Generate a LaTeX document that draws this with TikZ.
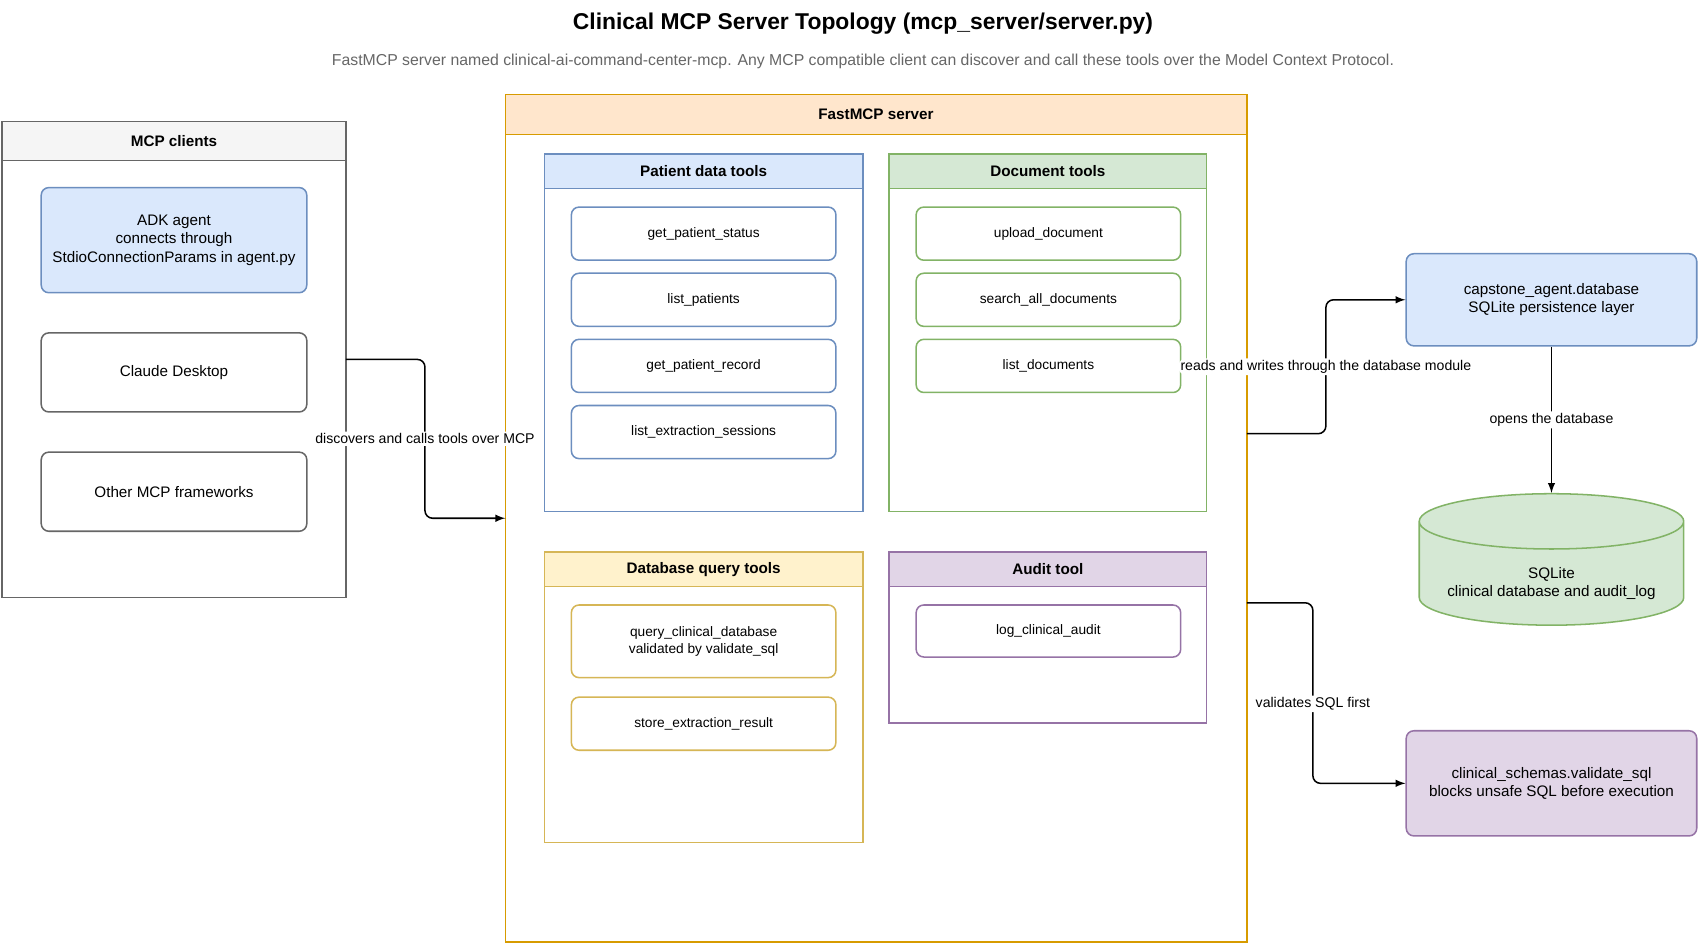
\documentclass[tikz,border=0pt]{standalone}
\usepackage{fontspec}
\setmainfont{Liberation Sans}
\usetikzlibrary{shapes.geometric,calc}
\definecolor{bluef}{HTML}{DAE8FC}\definecolor{blued}{HTML}{6C8EBF}
\definecolor{greenf}{HTML}{D5E8D4}\definecolor{greend}{HTML}{82B366}
\definecolor{yellowf}{HTML}{FFF2CC}\definecolor{yellowd}{HTML}{D6B656}
\definecolor{purplef}{HTML}{E1D5E7}\definecolor{purpled}{HTML}{9673A6}
\definecolor{orangef}{HTML}{FFE6CC}\definecolor{oranged}{HTML}{D79B00}
\definecolor{grayf}{HTML}{F5F5F5}\definecolor{grayd}{HTML}{666666}
\tikzset{
  box/.style={draw,thick,fill=white,inner sep=0,outer sep=0},
  head/.style={box,anchor=north,font=\fontsize{8}{9.6}\selectfont\bfseries},
  tool/.style={draw,thick,rounded corners=4pt,fill=white,minimum width=4.88cm,
    minimum height=0.98cm,align=center,font=\fontsize{7.2}{8.6}\selectfont},
  client/.style={tool,draw=grayd,minimum width=4.9cm,minimum height=1.46cm,font=\fontsize{8}{9.6}\selectfont},
  edge/.style={draw,-latex,thick,rounded corners=4pt},
  elabel/.style={fill=white,inner sep=1pt,font=\fontsize{7.4}{8.8}\selectfont},
}
\begin{document}
\begin{tikzpicture}[x=0.02cm,y=-0.02cm]
  \useasboundingbox (0,0) rectangle (1568,872);
  \node[font=\fontsize{12}{14}\selectfont\bfseries] (title) at (796,22) {Clinical MCP Server Topology (mcp\_server/server.py)};
  \node[font=\fontsize{8.3}{10}\selectfont,text=black!60] (subtitle) at (796,57) {FastMCP server named clinical-ai-command-center-mcp. Any MCP compatible client can discover and call these tools over the Model Context Protocol.};

  % clients
  \node[box,draw=grayd,minimum width=6.34cm,minimum height=8.78cm] (clients) at (160.5,331.5) {};
  \node[head,draw=grayd,fill=grayf,minimum width=6.34cm,minimum height=0.72cm] (clientshead) at (clients.north) {MCP clients};
  \node[client,draw=blued,fill=bluef,minimum height=1.94cm] (adk) at (160.5,221.5) {ADK agent\\connects through\\StdioConnectionParams in agent.py};
  \node[client] (claude) at (160.5,343.5) {Claude Desktop};
  \node[client] (other) at (160.5,453.5) {Other MCP frameworks};

  % server
  \node[box,draw=oranged,minimum width=13.68cm,minimum height=15.64cm] (server) at (808,478) {};
  \node[head,draw=oranged,fill=orangef,minimum width=13.68cm,minimum height=0.74cm] (serverhead) at (server.north) {FastMCP server};

  % patient data tools
  \node[box,draw=blued,minimum width=5.88cm,minimum height=6.6cm] (patient) at (649,307) {};
  \node[head,draw=blued,fill=bluef,minimum width=5.88cm,minimum height=0.64cm] (patienthead) at (patient.north) {Patient data tools};
  \node[tool,draw=blued] (status) at (649,215.5) {get\_patient\_status};
  \node[tool,draw=blued] (listp) at (649,276.5) {list\_patients};
  \node[tool,draw=blued] (record) at (649,337.5) {get\_patient\_record};
  \node[tool,draw=blued] (sessions) at (649,398.5) {list\_extraction\_sessions};

  % document tools
  \node[box,draw=greend,minimum width=5.86cm,minimum height=6.6cm] (docs) at (966.5,307) {};
  \node[head,draw=greend,fill=greenf,minimum width=5.86cm,minimum height=0.64cm] (docshead) at (docs.north) {Document tools};
  \node[tool,draw=greend] (upload) at (967,215.5) {upload\_document};
  \node[tool,draw=greend] (search) at (967,276.5) {search\_all\_documents};
  \node[tool,draw=greend] (listd) at (967,337.5) {list\_documents};

  % database query tools
  \node[box,draw=yellowd,minimum width=5.88cm,minimum height=5.36cm] (dbq) at (649,643) {};
  \node[head,draw=yellowd,fill=yellowf,minimum width=5.88cm,minimum height=0.64cm] (dbqhead) at (dbq.north) {Database query tools};
  \node[tool,draw=yellowd,minimum height=1.34cm] (query) at (649,591.5) {query\_clinical\_database\\validated by validate\_sql};
  \node[tool,draw=yellowd] (store) at (649,667.5) {store\_extraction\_result};

  % audit tool
  \node[box,draw=purpled,minimum width=5.86cm,minimum height=3.16cm] (audit) at (966.5,588) {};
  \node[head,draw=purpled,fill=purplef,minimum width=5.86cm,minimum height=0.64cm] (audithead) at (audit.north) {Audit tool};
  \node[tool,draw=purpled,minimum height=0.96cm] (log) at (967,582) {log\_clinical\_audit};

  % right side
  \node[client,draw=blued,fill=bluef,minimum width=5.36cm,minimum height=1.7cm] (capstone) at (1431,276.5) {capstone\_agent.database\\SQLite persistence layer};
  \node[cylinder,shape border rotate=90,draw=greend,fill=greenf,thick,aspect=0.25,
    minimum width=4.88cm,minimum height=2.02cm,align=center,font=\fontsize{8}{9.6}\selectfont] (sqlite) at (1431,533) {\\[2pt]SQLite\\clinical database and audit\_log};
  \node[client,draw=purpled,fill=purplef,minimum width=5.36cm,minimum height=1.94cm] (schemas) at (1431,722.5) {clinical\_schemas.validate\_sql\\blocks unsafe SQL before execution};

  % connectors
  \draw[edge] (clients.east) -- ++(73,0) |- (server.west) node[elabel,pos=0.25] {discovers and calls tools over MCP};
  \draw[edge] ($(server.east)+(0,-78)$) -- ++(73,0) |- (capstone.west) node[elabel,pos=0.25] {reads and writes through the database module};
  \draw[edge] (capstone.south) -- (sqlite.north) node[elabel,pos=0.5] {opens the database};
  \draw[edge] ($(server.east)+(0,78)$) -- ++(61,0) |- (schemas.west) node[elabel,pos=0.28] {validates SQL first};
\end{tikzpicture}
\end{document}
